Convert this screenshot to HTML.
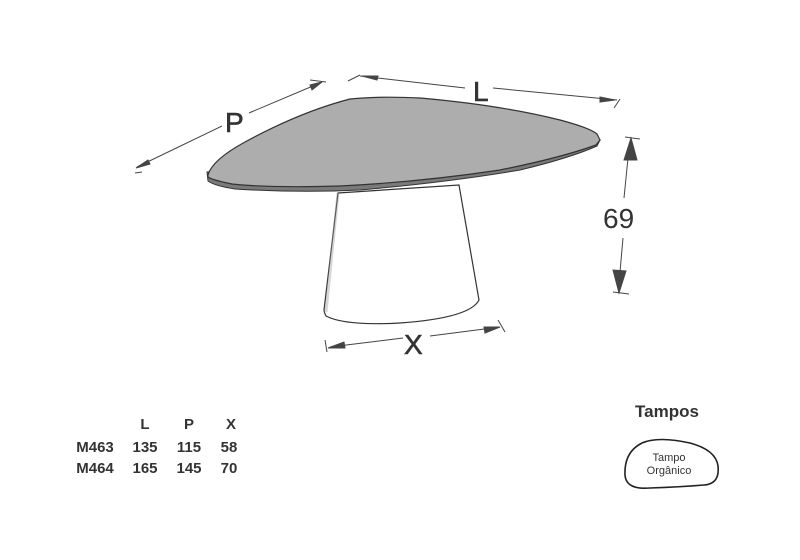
<!DOCTYPE html>
<html><head><meta charset="utf-8"><style>
html,body{margin:0;padding:0;background:#fff;}
svg{display:block;}
text{font-family:"Liberation Sans",sans-serif;fill:#333;}
</style></head><body>
<svg width="800" height="560" viewBox="0 0 800 560" xmlns="http://www.w3.org/2000/svg">
<!-- pedestal -->
<path d="M338,193 L459,185 L479,300 Q470,318 400,323 Q345,326 326,316 Q324,312 324,310 Z" fill="#fff" stroke="#333" stroke-width="1.2"/>
<path d="M338,193 L326,312" stroke="#999" stroke-width="3" fill="none" opacity="0.4"/>
<!-- table top edge -->
<path d="M207,172 L208,181 Q215,186 235,189 Q300,193 360,190 Q450,182 520,170 Q570,158 597,146 L600,140 Z" fill="#7a7a7a" stroke="#333" stroke-width="1"/>
<!-- table top -->
<path d="M208,175 Q212,160 245,142 Q300,112 350,99 Q380,96 420,98 Q500,105 560,120 Q590,128 597,134 L600,140 L596,145 Q560,158 500,170 Q420,182 340,186 Q270,188 232,184 Q212,180 208,177 Z" fill="#adadad" stroke="#333" stroke-width="1.2"/>
<!-- dimension lines -->
<g stroke="#444" stroke-width="1" fill="#444">
  <line x1="137" y1="167" x2="222" y2="126"/>
  <line x1="249" y1="113" x2="320" y2="83"/>
  <polygon points="136,168 148,160 150,164"/>
  <polygon points="322,82 310,85 312,90"/>
  <line x1="135" y1="173" x2="142" y2="172"/>
  <line x1="310" y1="80" x2="326" y2="82"/>
  <line x1="360" y1="76" x2="465" y2="88"/>
  <line x1="493" y1="88" x2="617" y2="100"/>
  <line x1="348" y1="81" x2="360" y2="75"/>
  <line x1="614" y1="108" x2="620" y2="99"/>
  <polygon points="362,76 378,76 377,80"/>
  <polygon points="615,100 600,97 600,102"/>
  <line x1="628" y1="158" x2="624" y2="198"/>
  <line x1="623" y1="238" x2="620" y2="272"/>
  <polygon points="631,138 624,160 637,160"/>
  <polygon points="619,293 613,270 626,271"/>
  <line x1="625" y1="137" x2="640" y2="139"/>
  <line x1="613" y1="292" x2="629" y2="294"/>
  <line x1="330" y1="347" x2="403" y2="338"/>
  <line x1="430" y1="336" x2="500" y2="327"/>
  <polygon points="328,348 344,342 345,348"/>
  <polygon points="500,327 484,327 485,333"/>
  <line x1="325" y1="340" x2="327" y2="352"/>
  <line x1="498" y1="320" x2="505" y2="332"/>
</g>
<text x="225" y="132" font-size="28" stroke="#333" stroke-width="0.6">P</text>
<text x="473" y="101" font-size="28" stroke="#333" stroke-width="0.6">L</text>
<text x="603" y="228" font-size="28">69</text>
<text x="404" y="354" font-size="28" stroke="#333" stroke-width="0.6">X</text>
<!-- table -->
<g font-size="15" font-weight="bold" text-anchor="middle">
  <text x="145" y="429">L</text><text x="189" y="429">P</text><text x="231" y="429">X</text>
  <text x="95" y="452">M463</text><text x="145" y="452">135</text><text x="189" y="452">115</text><text x="229" y="452">58</text>
  <text x="95" y="473">M464</text><text x="145" y="473">165</text><text x="189" y="473">145</text><text x="229" y="473">70</text>
</g>
<text x="667" y="417" font-size="17" font-weight="bold" text-anchor="middle">Tampos</text>
<path d="M642,443 Q658,436 690,443 Q716,450 718,466 Q720,484 704,485 Q680,487 650,488 Q626,490 625,475 Q624,452 642,443 Z" fill="#fff" stroke="#222" stroke-width="1.6"/>
<text x="669" y="461" font-size="11" text-anchor="middle">Tampo</text>
<text x="669" y="474" font-size="11" text-anchor="middle">Orgânico</text>
</svg>
</body></html>
